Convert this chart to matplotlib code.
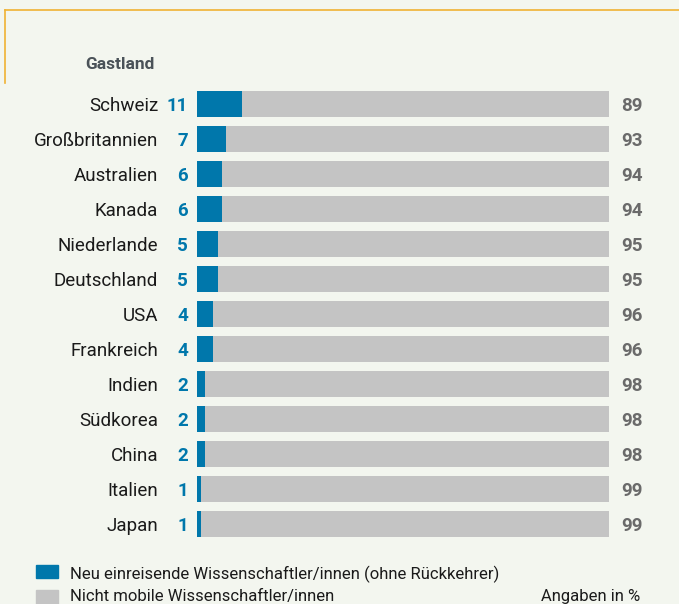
import matplotlib.pyplot as plt
from matplotlib.patches import Rectangle
from matplotlib.lines import Line2D

plt.rcParams['font.family'] = ['Roboto', 'DejaVu Sans']

# Data
countries = ['Schweiz', 'Großbritannien', 'Australien', 'Kanada', 'Niederlande',
             'Deutschland', 'USA', 'Frankreich', 'Indien', 'Südkorea', 'China',
             'Italien', 'Japan']
neu = [11, 7, 6, 6, 5, 5, 4, 4, 2, 2, 2, 1, 1]
nicht_mobil = [89, 93, 94, 94, 95, 95, 96, 96, 98, 98, 98, 99, 99]

blue = '#0077ab'
grey = '#c4c4c4'
bg = '#f3f6ef'
W, H = 679, 604

fig = plt.figure(figsize=(W / 100, H / 100), dpi=100, facecolor=bg)
ax = fig.add_axes([197 / W, 1 - 541.5 / H, 412 / W, 455 / H])
ax.set_facecolor(bg)

y = range(len(countries))
ax.barh(y, neu, height=0.74, color=blue, linewidth=0)
ax.barh(y, nicht_mobil, left=neu, height=0.74, color=grey, linewidth=0)
ax.set_xlim(0, 100)
ax.set_ylim(len(countries) - 0.5, -0.5)
ax.axis('off')

for i, (c, a, b) in enumerate(zip(countries, neu, nicht_mobil)):
    ax.text(-39 / 4.12, i, c, ha='right', va='center_baseline', fontsize=13.5,
            color='#1a1a1a')
    ax.text(-9 / 4.12, i, str(a), ha='right', va='center_baseline', fontsize=13.5,
            color=blue, fontweight='bold')
    ax.text(100 + 12 / 4.12, i, str(b), ha='left', va='center_baseline', fontsize=13.5,
            color='#6a6a6a', fontweight='bold')

fig.text(85 / W, 1 - 63 / H, 'Gastland', ha='left', va='center_baseline', fontsize=12.5,
         fontweight='bold', color='#4a5258')

# orange frame line
orange = '#f0b233'
fig.add_artist(Line2D([5 / W, 1], [1 - 10 / H, 1 - 10 / H], color=orange, lw=1.2))
fig.add_artist(Line2D([5 / W, 5 / W], [1 - 10 / H, 1 - 83 / H], color=orange, lw=1.2))

# legend
fig.add_artist(Rectangle((36 / W, 1 - 578 / H), 22 / W, 13 / H, color=blue,
                         transform=fig.transFigure))
fig.add_artist(Rectangle((36 / W, 1 - 604 / H), 22 / W, 14 / H, color=grey,
                         transform=fig.transFigure))
fig.text(70 / W, 1 - 572 / H, 'Neu einreisende Wissenschaftler/innen (ohne Rückkehrer)',
         ha='left', va='center_baseline', fontsize=12, color='#1a1a1a')
fig.text(70 / W, 1 - 595 / H, 'Nicht mobile Wissenschaftler/innen',
         ha='left', va='center_baseline', fontsize=12, color='#1a1a1a')
fig.text(640 / W, 1 - 595 / H, 'Angaben in %', ha='right', va='center_baseline',
         fontsize=12, color='#1a1a1a')

fig.savefig('out.png', dpi=100, facecolor=bg)
